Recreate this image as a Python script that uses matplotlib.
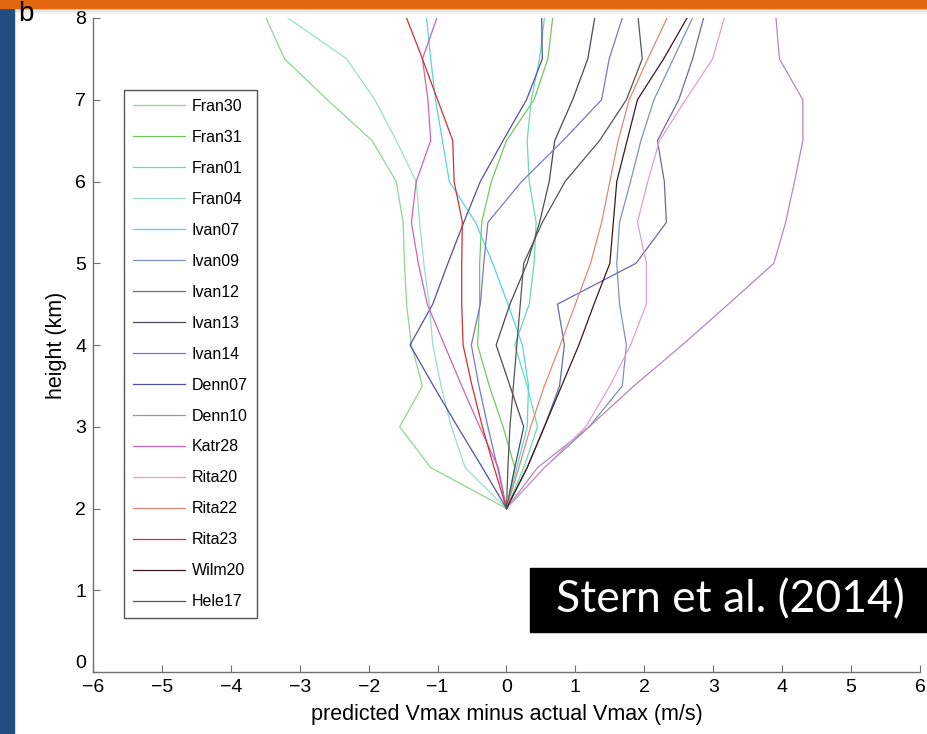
import matplotlib.pyplot as plt
from matplotlib.patches import Rectangle

# model error profiles, every 0.5 km from 2 to 8 km
height = [2, 2.5, 3, 3.5, 4, 4.5, 5, 5.5, 6, 6.5, 7, 7.5, 8]

names = ["Fran30", "Fran31", "Fran01", "Fran04", "Ivan07", "Ivan09", "Ivan12",
         "Ivan13", "Ivan14", "Denn07", "Denn10", "Katr28", "Rita20", "Rita22",
         "Rita23", "Wilm20", "Hele17"]

fran30 = [0, -1.10, -1.55, -1.22, -1.38, -1.45, -1.48, -1.50, -1.60, -1.95, -2.60, -3.22, -3.49]
fran31 = [0, 0.12, -0.05, -0.25, -0.42, -0.39, -0.39, -0.36, -0.22, 0.00, 0.40, 0.60, 0.67]
fran01 = [0, 0.25, 0.45, 0.30, 0.12, 0.33, 0.40, 0.43, 0.33, 0.30, 0.36, 0.48, 0.55]
fran04 = [0, -0.60, -0.80, -0.95, -1.07, -1.12, -1.20, -1.26, -1.31, -1.60, -1.91, -2.32, -3.17]
ivan07 = [0, 0.15, 0.30, 0.32, 0.23, 0.02, -0.20, -0.45, -0.83, -0.93, -1.03, -1.10, -1.16]
ivan09 = [0, 0.55, 1.20, 1.68, 1.74, 1.64, 1.60, 1.64, 1.80, 1.95, 2.14, 2.42, 2.70]
ivan12 = [0, 0.30, 0.55, 0.77, 0.84, 0.74, 1.88, 2.32, 2.29, 2.19, 2.50, 2.70, 2.86]
ivan13 = [0, 0.12, 0.25, 0.05, -0.15, 0.05, 0.30, 0.48, 0.62, 0.70, 0.96, 1.18, 1.28]
ivan14 = [0, -0.13, -0.27, -0.40, -0.51, -0.38, -0.33, -0.27, 0.22, 0.82, 1.38, 1.49, 1.68]
denn07 = [0, -0.35, -0.71, -1.06, -1.40, -1.07, -0.85, -0.62, -0.38, -0.05, 0.29, 0.52, 0.51]
denn10 = [0, 0.45, 1.20, 1.85, 2.55, 3.22, 3.88, 4.05, 4.18, 4.30, 4.30, 3.96, 3.91]
katr28 = [0, -0.12, -0.39, -0.65, -0.90, -1.15, -1.28, -1.38, -1.31, -1.10, -1.14, -1.22, -1.01]
rita20 = [0, 0.55, 1.15, 1.50, 1.80, 2.03, 2.03, 1.90, 2.05, 2.22, 2.60, 2.99, 3.16]
rita22 = [0, 0.18, 0.35, 0.55, 0.78, 1.00, 1.22, 1.38, 1.50, 1.62, 1.78, 2.05, 2.33]
rita23 = [0, -0.18, -0.35, -0.50, -0.63, -0.65, -0.65, -0.64, -0.76, -0.78, -1.00, -1.22, -1.45]
wilm20 = [0, 0.30, 0.55, 0.80, 1.05, 1.27, 1.50, 1.55, 1.60, 1.75, 1.90, 2.28, 2.62]
hele17 = [0, 0.02, 0.05, 0.10, 0.15, 0.20, 0.25, 0.52, 0.85, 1.35, 1.74, 1.97, 1.91]

profiles = [fran30, fran31, fran01, fran04, ivan07, ivan09, ivan12, ivan13, ivan14,
            denn07, denn10, katr28, rita20, rita22, rita23, wilm20, hele17]

colors = ["#8fd68f", "#72c95a", "#66ddaa", "#99ddcc", "#55d5dd", "#7f93b5", "#6a6aaa",
          "#4a4a5a", "#7777cc", "#5050a8", "#b088c0", "#cc66aa", "#e0a0cc", "#e08877",
          "#cc3333", "#3a1a1a", "#555555"]

plt.rcParams["font.family"] = ["Liberation Sans", "DejaVu Sans"]

fig = plt.figure(figsize=(9.28, 7.34), dpi=100)
fig.patch.set_facecolor("white")

# slide decorations: blue side strip and orange header bar
fig.patches.append(Rectangle((0, 0), 14 / 928, 1, transform=fig.transFigure,
                             color="#1f4e82", zorder=0))
fig.patches.append(Rectangle((0, 1 - 8 / 734), 1, 8 / 734, transform=fig.transFigure,
                             color="#e2670f", zorder=3))
for i, a in enumerate([0.35, 0.2, 0.1]):
    fig.patches.append(Rectangle((14 / 928, 1 - (10 + 2 * i) / 734), 1, 2 / 734,
                                 transform=fig.transFigure, color="gray",
                                 alpha=a, lw=0, zorder=2))

ax = fig.add_axes([93 / 928, 62 / 734, 827 / 928, 654 / 734])
for name, xs, c in zip(names, profiles, colors):
    ax.plot(xs, height, color=c, lw=0.9, label=name)

ax.set_xlim(-6, 6)
ax.set_ylim(0, 8)
ax.set_xticks(range(-6, 7))
ax.set_yticks(range(0, 9))
for s in ["top", "right"]:
    ax.spines[s].set_visible(False)
for s in ["left", "bottom"]:
    ax.spines[s].set_color("#707070")
    ax.spines[s].set_linewidth(1)
ax.tick_params(direction="in", length=5, color="#707070", labelsize=14, pad=5)
# the zero on the height axis sits just above the corner
ax.get_yticklabels()[0].set_verticalalignment("bottom")

ax.set_xlabel("predicted Vmax minus actual Vmax (m/s)", fontsize=15.5, labelpad=6)
ax.set_ylabel("height (km)", fontsize=15.5, labelpad=6)

leg = ax.legend(loc="upper left", bbox_to_anchor=(31 / 827, 582 / 654), borderaxespad=0,
                fancybox=False, edgecolor="#555555", framealpha=1,
                prop={"size": 11.5},
                handlelength=3.3, handletextpad=0.4, labelspacing=1.0,
                borderpad=0.55)
leg.get_frame().set_linewidth(1)

fig.text(18 / 928, 1 - 21 / 734, "b", fontsize=20, color="black")

# citation box
fig.patches.append(Rectangle((530 / 928, 1 - 632 / 734), 398 / 928, 64 / 734,
                             transform=fig.transFigure, color="black", zorder=5))
fig.text(730 / 928, 1 - 600 / 734, "Stern et al. (2014)", fontsize=32, family="Lato",
         color="white", ha="center", va="center", zorder=6)

fig.savefig("out.png", dpi=100)
